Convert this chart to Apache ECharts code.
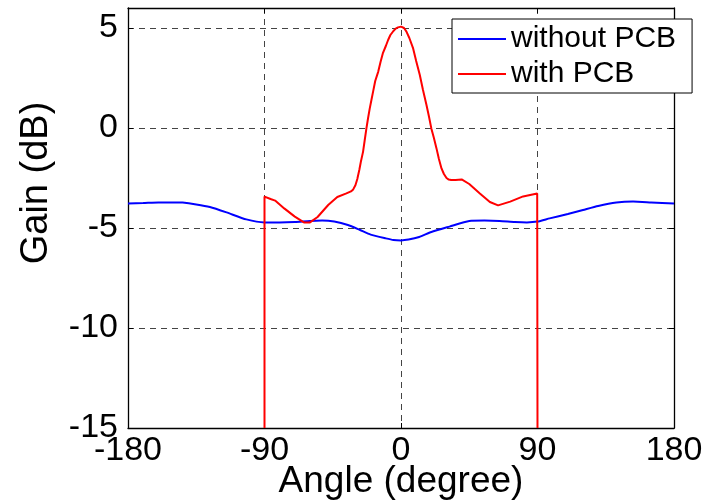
<!DOCTYPE html>
<html>
<head>
<meta charset="utf-8">
<script src="https://cdn.jsdelivr.net/npm/echarts@6/dist/echarts.min.js"></script>
<style>
  html, body { margin: 0; padding: 0; background: #fff; }
  #chart { width: 713px; height: 503px; }
</style>
</head>
<body>
<div id="chart"></div>
<script>
// Radiation pattern: gain versus angle, with and without the PCB
const seriesNames = ['without PCB', 'with PCB'];

const angleWithout = [-180, -170, -160, -150, -144, -135, -126, -115, -102, -90, -80, -70, -60, -52, -44, -35, -27, -20, -10, -5, 0, 5, 12, 20, 32, 45, 55, 65, 75, 83, 90, 98, 110, 120, 130, 142, 153, 165, 180];
const gainWithout = [-3.77, -3.75, -3.72, -3.72, -3.73, -3.82, -3.95, -4.22, -4.57, -4.72, -4.72, -4.70, -4.65, -4.63, -4.68, -4.85, -5.10, -5.33, -5.52, -5.60, -5.62, -5.58, -5.45, -5.20, -4.93, -4.65, -4.63, -4.65, -4.70, -4.72, -4.68, -4.52, -4.30, -4.10, -3.90, -3.73, -3.68, -3.72, -3.77];

const angleWith = [-90, -90, -86, -83, -77, -70, -64, -60, -55, -48, -42, -36, -33, -31.5, -30, -28.8, -27.5, -26.5, -25, -24, -22.8, -21.7, -20.6, -19.5, -18.4, -17, -15, -13.5, -12, -10, -8.5, -7, -5, -3.5, -2, 0, 1, 2, 3.6, 5.5, 8, 10, 12.4, 14.5, 16.8, 18.5, 20, 21.7, 23.4, 25, 26.7, 28.3, 30, 31.5, 33, 36, 40, 45, 52, 58.6, 64, 72, 80.5, 89.8, 90];
const gainWith = [-15, -3.43, -3.55, -3.63, -4.02, -4.43, -4.72, -4.72, -4.45, -3.85, -3.45, -3.27, -3.17, -3.07, -2.85, -2.55, -2.10, -1.70, -1.18, -0.65, -0.02, 0.50, 0.98, 1.40, 1.82, 2.35, 2.82, 3.30, 3.73, 4.10, 4.40, 4.65, 4.85, 4.97, 5.03, 5.07, 5.05, 5.00, 4.82, 4.50, 3.98, 3.35, 2.65, 1.90, 1.15, 0.55, -0.02, -0.50, -1.02, -1.55, -2.02, -2.30, -2.50, -2.58, -2.60, -2.60, -2.57, -2.80, -3.27, -3.70, -3.87, -3.68, -3.42, -3.27, -15];

const xTicks = { min: -180, max: 180, step: 90 };
const yTicks = { min: -15, max: 6, step: 5 };

const zip = (xs, ys) => xs.map((x, i) => [x, ys[i]]);

const FONT = '"Liberation Sans", Arial, sans-serif';
const gridDash = { color: '#444', width: 1, type: [6, 5] };

const chart = echarts.init(document.getElementById('chart'), null, { renderer: 'canvas' });

const axisCommon = {
  type: 'value',
  axisLine: { show: true, onZero: false, lineStyle: { color: '#000', width: 1.3 } },
  axisTick: { show: true, inside: true, length: 5, lineStyle: { color: '#000', width: 1 } }
};

chart.setOption({
  animation: false,
  backgroundColor: '#fff',
  grid: { left: 128, right: 39, top: 8, bottom: 75, containLabel: false, outerBoundsMode: 'none' },
  xAxis: [
    Object.assign({}, axisCommon, {
      min: xTicks.min, max: xTicks.max, interval: xTicks.step,
      position: 'bottom',
      name: 'Angle (degree)',
      nameLocation: 'middle',
      nameGap: 35,
      nameMoveOverlap: false,
      nameTextStyle: { fontFamily: FONT, fontSize: 37, color: '#000' },
      axisLabel: { fontFamily: FONT, fontSize: 34, color: '#000', margin: 6 },
      splitLine: { show: true, lineStyle: gridDash }
    }),
    Object.assign({}, axisCommon, {
      min: xTicks.min, max: xTicks.max, interval: xTicks.step,
      position: 'top',
      axisLabel: { show: false },
      splitLine: { show: false }
    })
  ],
  yAxis: [
    Object.assign({}, axisCommon, {
      min: yTicks.min, max: yTicks.max, interval: yTicks.step,
      position: 'left',
      name: 'Gain (dB)',
      nameLocation: 'middle',
      nameRotate: 90,
      nameGap: 72,
      nameTextStyle: { fontFamily: FONT, fontSize: 38, color: '#000', padding: [0, 0, 0, 70] },
      axisLabel: {
        fontFamily: FONT, fontSize: 34, color: '#000', margin: 10,
        formatter: v => (v % yTicks.step === 0 ? String(v) : '')
      },
      splitLine: { show: true, lineStyle: gridDash }
    }),
    Object.assign({}, axisCommon, {
      min: yTicks.min, max: yTicks.max, interval: yTicks.step,
      position: 'right',
      axisLabel: { show: false },
      splitLine: { show: false }
    })
  ],
  legend: {
    orient: 'vertical',
    left: 452,
    top: 19,
    padding: [5, 16, 4, 6],
    itemGap: 5,
    itemWidth: 48,
    itemHeight: 2,
    icon: 'rect',
    backgroundColor: '#fff',
    borderColor: '#000',
    borderWidth: 1,
    textStyle: { fontFamily: FONT, fontSize: 30, color: '#000' },
    data: seriesNames
  },
  series: [
    {
      name: seriesNames[0],
      type: 'line',
      data: zip(angleWithout, gainWithout),
      showSymbol: false,
      smooth: 0.2,
      lineStyle: { color: '#0000ff', width: 2 },
      itemStyle: { color: '#0000ff' },
      clip: true
    },
    {
      name: seriesNames[1],
      type: 'line',
      data: zip(angleWith, gainWith),
      showSymbol: false,
      lineStyle: { color: '#ff0000', width: 2 },
      itemStyle: { color: '#ff0000' },
      clip: true
    }
  ]
});
</script>
</body>
</html>
